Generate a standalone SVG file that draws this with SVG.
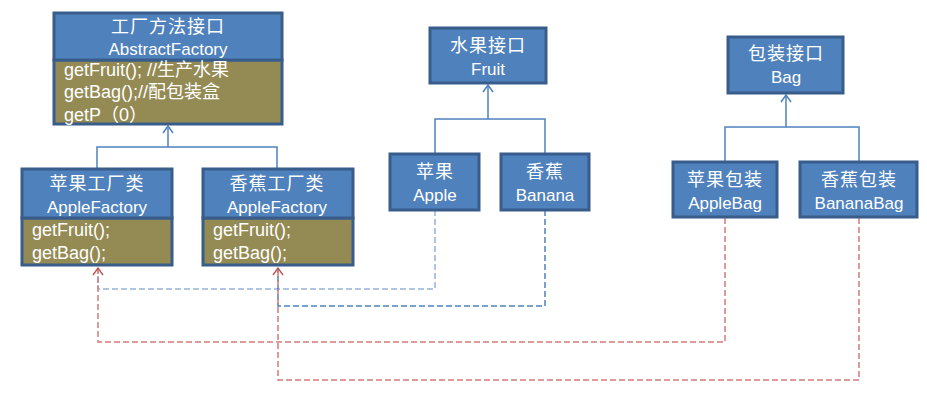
<svg xmlns="http://www.w3.org/2000/svg" width="927" height="406" viewBox="0 0 927 406">
<style>
.hd{fill:#4F81BD;stroke:#385D8A;stroke-width:3}
.bd{fill:#948A54;stroke:#385D8A;stroke-width:3}
.t{fill:#fff;font-family:"Liberation Sans","Noto Sans CJK SC",sans-serif;font-size:17px}
.m{font-size:18px}
.c{text-anchor:middle}
.zh{font-family:"Noto Sans CJK SC",sans-serif;font-size:18px;letter-spacing:1px}
.ln{fill:none;stroke:#4F81BD;stroke-width:1.5}
.dl{fill:none;stroke-width:1.5;stroke-dasharray:6 3}
</style>
<defs>
<marker id="ab" markerWidth="12" markerHeight="12" refX="6" refY="1" orient="0" markerUnits="userSpaceOnUse">
<path d="M1,8 L6,1 L11,8" fill="none" stroke="#4F81BD" stroke-width="1.5"/>
</marker>
<marker id="ar" markerWidth="12" markerHeight="12" refX="6" refY="1" orient="0" markerUnits="userSpaceOnUse">
<path d="M1,8 L6,1 L11,8" fill="none" stroke="#C0504D" stroke-width="1.3"/>
</marker>
</defs>
<g id="connectors">
<path class="ln" d="M97,169 V147 H277 V169 M168,147 V126" marker-end="url(#ab)"/>
<path class="ln" d="M435,154 V119 H545 V154 M488,119 V85" marker-end="url(#ab)"/>
<path class="ln" d="M725,162 V127 H859 V162 M786,127 V95" marker-end="url(#ab)"/>
<path class="dl" stroke="#95B3D7" d="M435,210 V289 H98 V268"/>
<path class="dl" stroke="#4F81BD" d="M545,210 V306 H278 V268"/>
<path class="dl" stroke="#D47B7B" d="M725,218 V342 H98 V268" marker-end="url(#ar)"/>
<path class="dl" stroke="#D47B7B" d="M859,218 V380 H278 V268" marker-end="url(#ar)"/>
</g>
<g id="abstractFactory">
<rect class="bd" x="54" y="60" width="228" height="64"/>
<rect class="hd" x="54" y="13" width="228" height="47"/>
<text class="t zh c" x="168" y="33">工厂方法接口</text>
<text class="t c" x="168" y="55">AbstractFactory</text>
<text class="t m" x="64" y="76">getFruit(); //生产水果</text>
<text class="t m" x="64" y="98">getBag();//配包装盒</text>
<text class="t m" x="64" y="121">getP（0）</text>
</g>
<g id="appleFactory">
<rect class="bd" x="22" y="218" width="150" height="47"/>
<rect class="hd" x="22" y="169" width="150" height="49"/>
<text class="t zh c" x="97" y="190">苹果工厂类</text>
<text class="t c" x="97" y="213">AppleFactory</text>
<text class="t m" x="32" y="236">getFruit();</text>
<text class="t m" x="32" y="259">getBag();</text>
</g>
<g id="bananaFactory">
<rect class="bd" x="203" y="218" width="150" height="47"/>
<rect class="hd" x="203" y="169" width="150" height="49"/>
<text class="t zh c" x="277" y="190">香蕉工厂类</text>
<text class="t c" x="277" y="213">AppleFactory</text>
<text class="t m" x="213" y="236">getFruit();</text>
<text class="t m" x="213" y="259">getBag();</text>
</g>
<g id="fruit">
<rect class="hd" x="430" y="28" width="116" height="55"/>
<text class="t zh c" x="488" y="52">水果接口</text>
<text class="t c" x="488" y="75">Fruit</text>
</g>
<g id="apple">
<rect class="hd" x="390" y="154" width="89" height="56"/>
<text class="t zh c" x="435" y="178">苹果</text>
<text class="t c" x="435" y="201">Apple</text>
</g>
<g id="banana">
<rect class="hd" x="501" y="154" width="88" height="56"/>
<text class="t zh c" x="545" y="178">香蕉</text>
<text class="t c" x="545" y="201">Banana</text>
</g>
<g id="bag">
<rect class="hd" x="728" y="37" width="115" height="56"/>
<text class="t zh c" x="786" y="60">包装接口</text>
<text class="t c" x="786" y="83">Bag</text>
</g>
<g id="appleBag">
<rect class="hd" x="673" y="162" width="104" height="55"/>
<text class="t zh c" x="725" y="186">苹果包装</text>
<text class="t c" x="725" y="209">AppleBag</text>
</g>
<g id="bananaBag">
<rect class="hd" x="800" y="162" width="117" height="55"/>
<text class="t zh c" x="859" y="186">香蕉包装</text>
<text class="t c" x="859" y="209">BananaBag</text>
</g>
</svg>
